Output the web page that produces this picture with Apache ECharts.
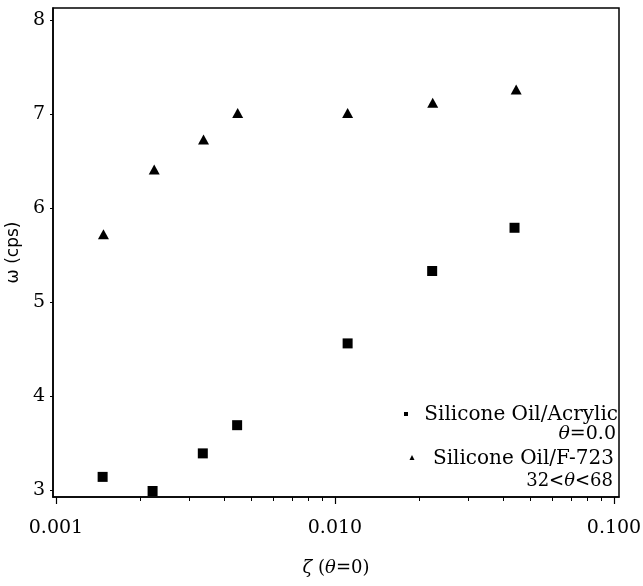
<!DOCTYPE html>
<html>
<head>
<meta charset="utf-8">
<script src="https://cdn.jsdelivr.net/npm/echarts@6/dist/echarts.min.js"></script>
<style>html,body{margin:0;padding:0;background:#fff}#c{width:643px;height:586px}</style>
</head>
<body>
<div id="c"></div>
<script>
// Data
const acrylicX = [0.00147, 0.00222, 0.00336, 0.00446, 0.0111, 0.0223, 0.0440];
const acrylicY = [3.14, 2.99, 3.39, 3.69, 4.56, 5.33, 5.79];
const f723X = [0.00148, 0.00225, 0.00338, 0.00448, 0.0111, 0.0224, 0.0446];
const f723Y = [5.72, 6.41, 6.73, 7.01, 7.01, 7.12, 7.26];
const xMajorTicks = [0.001, 0.01, 0.1];
const xMinorTicks = [0.002,0.003,0.004,0.005,0.006,0.007,0.008,0.009,0.02,0.03,0.04,0.05,0.06,0.07,0.08,0.09];
const yTicks = [3, 4, 5, 6, 7, 8];
const seriesNames = ['Silicone Oil/Acrylic', 'Silicone Oil/F-723'];

const serif = '"DejaVu Serif", "Liberation Serif", serif';
const chart = echarts.init(document.getElementById('c'), null, {renderer: 'canvas'});
const xMin = 0.000976, xMax = 0.1042;
chart.setOption({
  animation: false,
  backgroundColor: '#fff',
  grid: {left: 53, right: 24, top: 8, bottom: 89, containLabel: false, outerBoundsMode: 'none', show: true, borderColor: '#000', borderWidth: 1.5, backgroundColor: 'transparent'},
  xAxis: [{
    type: 'log', min: xMin, max: xMax, logBase: 10,
    name: '{g|ζ} ({i|θ}=0)', nameLocation: 'middle', nameGap: 62,
    nameTextStyle: {fontFamily: serif, fontSize: 18, color: '#000', rich: {i: {fontStyle: 'italic', fontFamily: serif, fontSize: 18}, g: {fontStyle: 'italic', fontFamily: serif, fontSize: 18}}},
    axisLine: {show: true, lineStyle: {color: '#000', width: 1.5}},
    axisTick: {show: true, length: 7, inside: false, customValues: xMajorTicks, lineStyle: {color: '#000', width: 1.2}},
    axisLabel: {show: true, customValues: xMajorTicks, margin: 22, color: '#000', fontFamily: serif, fontSize: 19, formatter: v => Number(v).toFixed(3)},
    splitLine: {show: false}, minorTick: {show: false}
  }, {
    type: 'log', min: xMin, max: xMax, logBase: 10, position: 'bottom',
    axisLine: {show: false},
    axisTick: {show: true, length: 4, inside: false, customValues: xMinorTicks, lineStyle: {color: '#000', width: 1}},
    axisLabel: {show: false}, splitLine: {show: false}
  }],
  yAxis: {
    type: 'value', min: 2.926, max: 8.128,
    name: 'ω (cps)', nameLocation: 'middle', nameGap: 27, nameRotate: 90,
    nameTextStyle: {fontFamily: '"DejaVu Sans", sans-serif', fontSize: 17, color: '#000'},
    axisLine: {show: true, lineStyle: {color: '#000', width: 1.5}},
    axisTick: {show: true, length: 3, customValues: yTicks, lineStyle: {color: '#000'}},
    axisLabel: {show: true, customValues: yTicks, margin: 8, color: '#000', fontFamily: serif, fontSize: 19},
    splitLine: {show: false}
  },
  series: [{
    name: seriesNames[0], type: 'scatter', xAxisIndex: 0,
    symbol: 'rect', symbolSize: 10, itemStyle: {color: '#000', opacity: 1},
    data: acrylicX.map((x, i) => [x, acrylicY[i]])
  }, {
    name: seriesNames[1], type: 'scatter', xAxisIndex: 0,
    symbol: 'triangle', symbolSize: [11, 10], itemStyle: {color: '#000', opacity: 1},
    data: f723X.map((x, i) => [x, f723Y[i]])
  }],
  graphic: [
    {type: 'rect', shape: {x: 404, y: 412, width: 4, height: 4}, style: {fill: '#000'}},
    {type: 'text', style: {text: seriesNames[0], x: 618, y: 415, align: 'right', verticalAlign: 'middle', font: '20px ' + serif, fill: '#000'}},
    {type: 'text', style: {text: '{i|θ}=0.0', x: 616, y: 434, align: 'right', verticalAlign: 'middle', font: '19px ' + serif, fill: '#000', rich: {i: {fontStyle: 'italic', fontFamily: serif, fontSize: 19}}}},
    {type: 'polygon', shape: {points: [[412, 455], [409.5, 460], [414.5, 460]]}, style: {fill: '#000'}},
    {type: 'text', style: {text: seriesNames[1], x: 614, y: 459, align: 'right', verticalAlign: 'middle', font: '20px ' + serif, fill: '#000'}},
    {type: 'text', style: {text: '32<{i|θ}<68', x: 613, y: 481, align: 'right', verticalAlign: 'middle', font: '18px ' + serif, fill: '#000', rich: {i: {fontStyle: 'italic', fontFamily: serif, fontSize: 18}}}}
  ]
});
</script>
</body>
</html>
